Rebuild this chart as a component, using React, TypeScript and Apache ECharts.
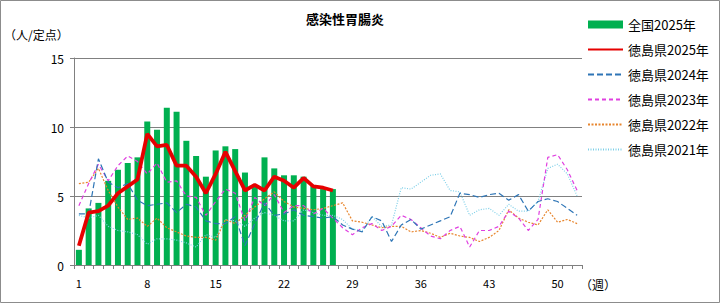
import React, { useEffect, useRef } from "react";
import * as echarts from "echarts";

const weeks: string[] = Array.from({ length: 52 }, (_, i) => String(i + 1));

const national2025 = [1.1, 4.1, 4.5, 6.1, 6.9, 7.4, 7.8, 10.4, 9.8, 11.4, 11.1, 9.0, 7.9, 6.4, 8.3, 8.6, 8.4, 6.7, 5.7, 7.8, 7.0, 6.5, 6.5, 6.4, 5.8, 5.5, 5.5];

const tokushima2025 = [1.4, 3.8, 3.9, 4.3, 5.2, 5.7, 6.2, 9.5, 8.6, 8.7, 7.2, 7.2, 6.4, 5.2, 6.6, 8.2, 6.8, 5.4, 5.8, 5.4, 6.4, 6.1, 5.6, 6.3, 5.7, 5.6, 5.4];

const tokushima2024 = [3.7, 3.7, 7.7, 6.0, 5.6, 5.9, 4.7, 4.3, 4.4, 4.5, 3.8, 4.4, 4.2, 3.2, 3.0, 3.0, 3.5, 1.4, 3.0, 4.5, 3.6, 3.7, 4.0, 3.6, 3.5, 3.4, 3.5, 2.9, 2.6, 2.4, 3.5, 3.2, 1.7, 2.9, 3.3, 2.6, 2.9, 3.2, 3.5, 5.2, 5.1, 4.9, 5.1, 5.2, 4.7, 5.1, 3.9, 4.6, 4.8, 4.6, 4.1, 3.6];

const tokushima2023 = [4.3, 5.9, 7.3, 6.1, 7.2, 7.9, 7.5, 6.6, 7.4, 6.0, 6.1, 5.0, 4.9, 3.6, 4.6, 5.5, 5.2, 3.2, 4.9, 4.3, 5.1, 3.8, 4.3, 4.3, 3.7, 4.1, 3.4, 2.7, 2.2, 2.7, 3.0, 2.5, 2.8, 3.6, 3.3, 2.7, 2.1, 1.9, 2.5, 2.8, 1.3, 2.5, 2.5, 2.8, 3.9, 3.4, 2.5, 3.3, 7.8, 8.0, 6.9, 5.4];

const tokushima2022 = [5.9, 6.0, 7.0, 5.4, 4.2, 3.3, 3.4, 2.8, 3.4, 2.7, 2.4, 2.1, 2.0, 2.0, 1.8, 3.3, 3.0, 3.6, 4.2, 4.8, 5.3, 4.6, 4.2, 4.1, 4.0, 4.1, 4.3, 4.5, 3.2, 3.1, 2.9, 2.7, 2.8, 2.8, 2.4, 2.5, 2.3, 2.0, 2.3, 2.1, 2.0, 1.7, 2.0, 2.5, 4.0, 3.4, 3.1, 2.9, 4.0, 3.1, 3.3, 3.0];

const tokushima2021 = [3.6, 3.4, 3.6, 2.8, 2.5, 2.4, 2.2, 1.5, 1.9, 1.9, 1.8, 1.6, 1.3, 2.2, 2.0, 3.3, 3.2, 2.8, 3.4, 3.8, 3.6, 3.2, 3.2, 4.0, 3.8, 3.6, 3.6, 3.3, 2.6, 2.5, 3.5, 2.8, 2.9, 5.6, 5.5, 6.0, 6.5, 6.6, 5.4, 5.3, 3.6, 4.0, 4.1, 3.6, 4.4, 3.9, 3.9, 4.6, 7.0, 7.3, 6.6, 5.0];

const seriesNames = ["全国2025年", "徳島県2025年", "徳島県2024年", "徳島県2023年", "徳島県2022年", "徳島県2021年"];

const FONT = "'Noto Sans CJK JP', 'Noto Sans', sans-serif";

export default function App() {
  const ref = useRef<HTMLDivElement>(null);

  useEffect(() => {
    document.body.style.margin = "0";
    if (!ref.current) return;
    const chart = echarts.init(ref.current, null, { renderer: "svg" });

    const lineSeries = (name: string, data: number[], color: string, width: number, type: any, z: number) => ({
      name,
      type: "line",
      data,
      symbol: "none",
      z,
      lineStyle: { color, width, type },
      itemStyle: { color },
    });

    chart.setOption({
      animation: false,
      backgroundColor: "#ffffff",
      textStyle: { fontFamily: FONT },
      grid: { left: 74, top: 58, width: 508, height: 207, containLabel: false },
      legend: {
        orient: "vertical",
        left: 582,
        top: 12,
        itemWidth: 35,
        itemHeight: 8,
        itemGap: 10,
        data: seriesNames.map((n, i) =>
          i === 0 ? { name: n, icon: "rect" } : { name: n, itemStyle: { opacity: 0 } }
        ),
        textStyle: { fontSize: 13, color: "#000", fontFamily: FONT, lineHeight: 15 },
      },
      xAxis: {
        type: "category",
        data: weeks,
        boundaryGap: true,
        axisLine: { lineStyle: { color: "#808080", width: 1 } },
        axisTick: { show: true, interval: 0, length: 4, lineStyle: { color: "#808080" } },
        axisLabel: { interval: 6, color: "#000", fontSize: 11, margin: 12, fontFamily: FONT },
        splitLine: { show: false },
      },
      yAxis: {
        type: "value",
        min: 0,
        max: 15,
        interval: 5,
        axisLine: { show: true, lineStyle: { color: "#808080", width: 1 } },
        axisTick: { show: true, length: 4, lineStyle: { color: "#808080" } },
        axisLabel: { color: "#000", fontSize: 12, margin: 10, fontFamily: FONT },
        splitLine: { show: true, lineStyle: { color: "#808080", width: 1 } },
      },
      graphic: [
        {
          type: "rect",
          shape: { x: 0.5, y: 0.5, width: 719, height: 302 },
          style: { fill: "none", stroke: "#8c8c8c", lineWidth: 1 },
          silent: true,
          z: -10,
        },
        {
          type: "text",
          x: 345,
          y: 18,
          style: { text: "感染性胃腸炎", fill: "#000", align: "center", verticalAlign: "middle", font: `bold 13px ${FONT}` },
        },
        {
          type: "text",
          x: 4,
          y: 34,
          style: { text: "（人/定点）", fill: "#000", verticalAlign: "middle", font: `12px ${FONT}` },
        },
        {
          type: "text",
          x: 580,
          y: 284,
          style: { text: "（週）", fill: "#000", verticalAlign: "middle", font: `12px ${FONT}` },
        },
      ],
      series: [
        {
          name: seriesNames[0],
          type: "bar",
          data: national2025,
          barWidth: 6,
          itemStyle: { color: "#00B050" },
          z: 1,
        },
        lineSeries(seriesNames[1], tokushima2025, "#E60000", 3.8, "solid", 10),
        lineSeries(seriesNames[2], tokushima2024, "#2E75B6", 1.2, [6, 3], 5),
        lineSeries(seriesNames[3], tokushima2023, "#E040E0", 1.2, [4, 3], 4),
        lineSeries(seriesNames[4], tokushima2022, "#E8862E", 1.2, [2, 1.5], 3),
        lineSeries(seriesNames[5], tokushima2021, "#7DCFE8", 1.2, [1, 1.5], 2),
      ],
    });

    return () => chart.dispose();
  }, []);

  return <div ref={ref} style={{ width: 720, height: 303 }} />;
}
